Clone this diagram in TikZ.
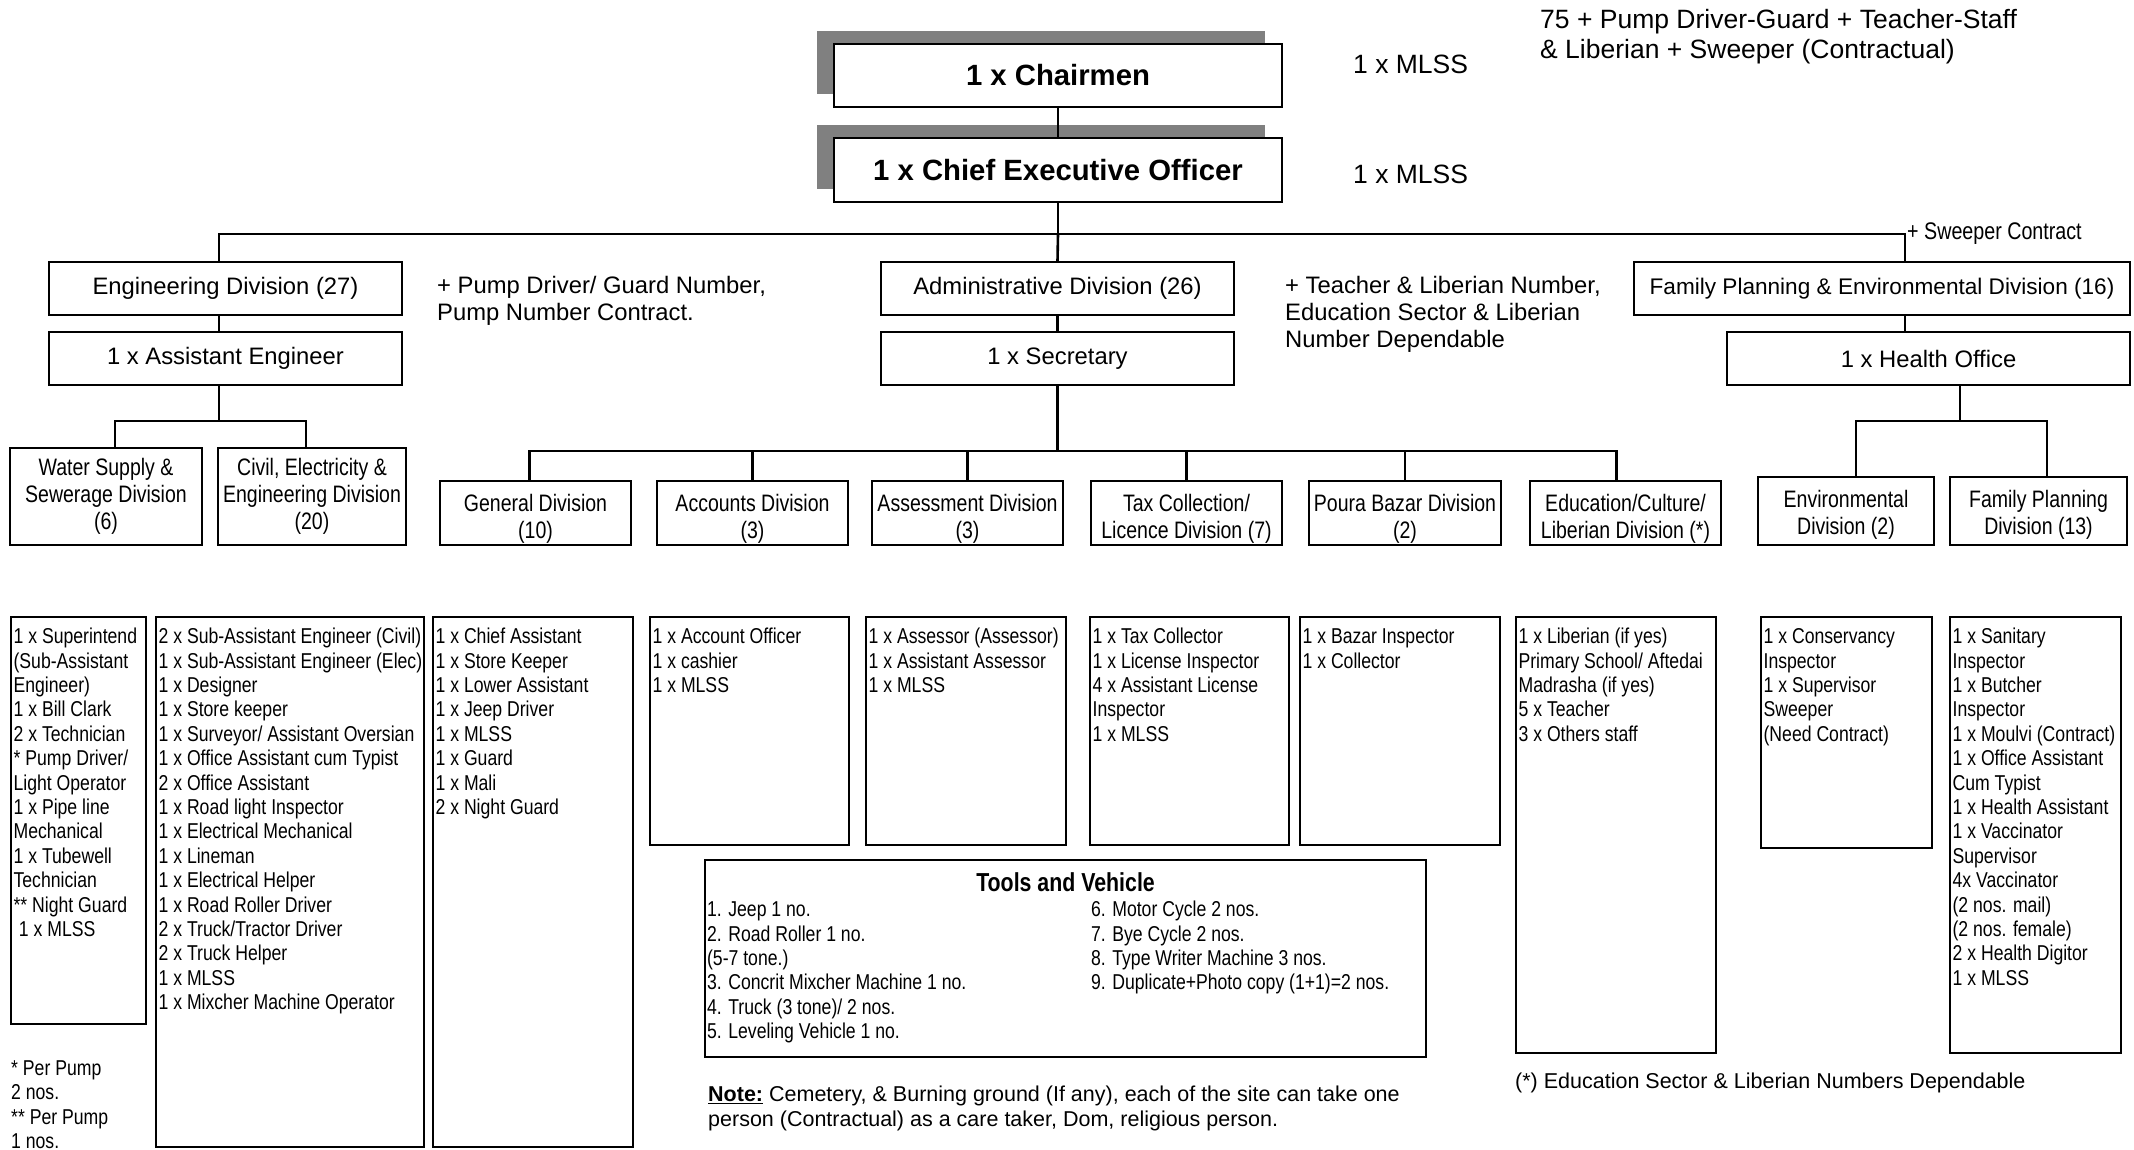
\documentclass[tikz,border=0pt]{standalone}
\usepackage{fontspec}
\setmainfont{Liberation Sans}
\newfontfamily\narrowfont[FakeStretch=0.82]{Liberation Sans}
\usetikzlibrary{calc,shadows}

% font sizes (1 unit = 1pt)
\newcommand\hdfont{\fontsize{23.8}{27}\selectfont}
\newcommand\sbfont{\narrowfont\fontsize{23.8}{26.7}\selectfont}
\newcommand\lsfont{\narrowfont\fontsize{21.5}{24.4}\selectfont}
\newcommand\topfont{\fontsize{26.5}{30}\selectfont}
\newcommand\chieffont{\bfseries\fontsize{29.3}{33}\selectfont}
\newcommand\notefont{\fontsize{21.5}{25}\selectfont}
\newcommand\tstrut{\rule{0pt}{0.8em}}
% taller first line, pushes a centred block of lines slightly down
\newcommand\lowstrut[1]{\rule{0pt}{#1}}

\tikzset{
  box/.style={draw, line width=2.2pt, fill=white, inner sep=0pt, align=center},
  topbox/.style={box, font=\chieffont,
    drop shadow={shadow xshift=-17pt, shadow yshift=13pt, opacity=1, fill=black!50}},
  headbox/.style={box, font=\hdfont},
  subbox/.style={box, font=\sbfont},
  listbox/.style={draw, line width=2.2pt, inner sep=0pt},
  listtext/.style={anchor=north west, inner sep=0pt, align=left, font=\lsfont},
  freetext/.style={anchor=north west, inner sep=0pt, align=left},
  link/.style={line width=2.6pt},
}

\begin{document}
\begin{tikzpicture}[x=1pt,y=-1pt]
\fill[white] (0,0) rectangle (2134,1149);
\useasboundingbox (0,0) rectangle (2134,1149);

% ---- top of the hierarchy
\node[topbox, minimum width=448, minimum height=63] (chair) at (1058,75.5) {1 x Chairmen};
\node[topbox, minimum width=448, minimum height=64] (ceo) at (1058,170) {1 x Chief Executive Officer};
\node[anchor=west, inner sep=0pt, font=\topfont] (mlss1) at (1353,64) {1 x MLSS};
\node[anchor=west, inner sep=0pt, font=\topfont] (mlss2) at (1353,174) {1 x MLSS};
\node[freetext, font=\topfont] (total) at (1540,7)
  {\tstrut 75 + Pump Driver-Guard + Teacher-Staff\\\& Liberian + Sweeper (Contractual)};

% ---- divisions
\node[headbox, minimum width=353, minimum height=53] (eng) at (225.5,288.5) {Engineering Division (27)};
\node[headbox, minimum width=353, minimum height=53] (asst) at (225.5,358.5) {1 x Assistant Engineer};
\node[headbox, minimum width=353, minimum height=53] (admin) at (1057.5,288.5) {Administrative Division (26)};
\node[headbox, minimum width=353, minimum height=53] (secr) at (1057.5,358.5) {1 x Secretary};
\node[headbox, minimum width=496, minimum height=53, font={\fontsize{22.6}{26}\selectfont}] (fam) at (1882,288.5)
  {Family Planning \& Environmental Division (16)};
\node[headbox, minimum width=403, minimum height=53] (health) at (1928.5,358.5) {1 x Health Office};

\node[freetext, font=\hdfont] (pumpnote) at (437,274.4)
  {\tstrut + Pump Driver/ Guard Number,\\Pump Number Contract.};
\node[freetext, font=\hdfont] (teachnote) at (1285,274.4)
  {\tstrut + Teacher \& Liberian Number,\\Education Sector \& Liberian\\Number Dependable};
\node[anchor=west, inner sep=0pt, font={\narrowfont\fontsize{24}{27}\selectfont}] (sweep) at (1907,234)
  {+ Sweeper Contract};

% ---- sections
\node[subbox, minimum width=192, minimum height=97] (water) at (106,496.5) {Water Supply \&\\Sewerage Division\\(6)};
\node[subbox, minimum width=188, minimum height=97] (civil) at (312,496.5) {Civil, Electricity \&\\Engineering Division\\(20)};
\node[subbox, minimum width=191, minimum height=64] (general) at (535.5,513) {\lowstrut{28.5pt}General Division\\(10)};
\node[subbox, minimum width=191, minimum height=64] (accounts) at (752.5,513) {\lowstrut{28.5pt}Accounts Division\\(3)};
\node[subbox, minimum width=191, minimum height=64] (assess) at (967.5,513) {\lowstrut{28.5pt}Assessment Division\\(3)};
\node[subbox, minimum width=191, minimum height=64] (tax) at (1186.5,513) {\lowstrut{28.5pt}Tax Collection/\\Licence Division (7)};
\node[subbox, minimum width=192, minimum height=64] (bazar) at (1405,513) {\lowstrut{28.5pt}Poura Bazar Division\\(2)};
\node[subbox, minimum width=191, minimum height=64] (educ) at (1625.5,513) {\lowstrut{28.5pt}Education/Culture/\\Liberian Division (*)};
\node[subbox, minimum width=176, minimum height=68] (env) at (1846,511) {\lowstrut{25.5pt}Environmental\\Division (2)};
\node[subbox, minimum width=177, minimum height=68] (fp) at (2038.5,511) {\lowstrut{25.5pt}Family Planning\\Division (13)};

% ---- staff lists
\node[listbox, minimum width=135, minimum height=407] (l1) at (78.5,820.5) {};
\node[listbox, minimum width=268, minimum height=530] (l2) at (290,882) {};
\node[listbox, minimum width=200, minimum height=530] (l3) at (533,882) {};
\node[listbox, minimum width=199, minimum height=228] (l4) at (749.5,731) {};
\node[listbox, minimum width=200, minimum height=228] (l5) at (966,731) {};
\node[listbox, minimum width=199, minimum height=228] (l6) at (1189.5,731) {};
\node[listbox, minimum width=200, minimum height=228] (l7) at (1400,731) {};
\node[listbox, minimum width=200, minimum height=436] (l8) at (1616,835) {};
\node[listbox, minimum width=171, minimum height=231] (l9) at (1846.5,732.5) {};
\node[listbox, minimum width=171, minimum height=436] (l10) at (2035.5,835) {};

\node[listtext] (l1t) at ($(l1.north west)+(3.5,10.3)$)
  {\tstrut 1 x Superintend\\(Sub-Assistant\\Engineer)\\1 x Bill Clark\\2 x Technician\\{}* Pump Driver/\\Light Operator\\1 x Pipe line\\Mechanical\\1 x Tubewell\\Technician\\{}** Night Guard\\\hspace{0.25em}1 x MLSS};
\node[listtext] (l2t) at ($(l2.north west)+(3.5,10.3)$)
  {\tstrut 2 x Sub-Assistant Engineer (Civil)\\1 x Sub-Assistant Engineer (Elec)\\1 x Designer\\1 x Store keeper\\1 x Surveyor/ Assistant Oversian\\1 x Office Assistant cum Typist\\2 x Office Assistant\\1 x Road light Inspector\\1 x Electrical Mechanical\\1 x Lineman\\1 x Electrical Helper\\1 x Road Roller Driver\\2 x Truck/Tractor Driver\\2 x Truck Helper\\1 x MLSS\\1 x Mixcher Machine Operator};
\node[listtext] (l3t) at ($(l3.north west)+(3.5,10.3)$)
  {\tstrut 1 x Chief Assistant\\1 x Store Keeper\\1 x Lower Assistant\\1 x Jeep Driver\\1 x MLSS\\1 x Guard\\1 x Mali\\2 x Night Guard};
\node[listtext] (l4t) at ($(l4.north west)+(3.5,10.3)$)
  {\tstrut 1 x Account Officer\\1 x cashier\\1 x MLSS};
\node[listtext] (l5t) at ($(l5.north west)+(3.5,10.3)$)
  {\tstrut 1 x Assessor (Assessor)\\1 x Assistant Assessor\\1 x MLSS};
\node[listtext] (l6t) at ($(l6.north west)+(3.5,10.3)$)
  {\tstrut 1 x Tax Collector\\1 x License Inspector\\4 x Assistant License\\Inspector\\1 x MLSS};
\node[listtext] (l7t) at ($(l7.north west)+(3.5,10.3)$)
  {\tstrut 1 x Bazar Inspector\\1 x Collector};
\node[listtext] (l8t) at ($(l8.north west)+(3.5,10.3)$)
  {\tstrut 1 x Liberian (if yes)\\Primary School/ Aftedai\\Madrasha (if yes)\\5 x Teacher\\3 x Others staff};
\node[listtext] (l9t) at ($(l9.north west)+(3.5,10.3)$)
  {\tstrut 1 x Conservancy\\Inspector\\1 x Supervisor\\Sweeper\\(Need Contract)};
\node[listtext] (l10t) at ($(l10.north west)+(3.5,10.3)$)
  {\tstrut 1 x Sanitary\\Inspector\\1 x Butcher\\Inspector\\1 x Moulvi (Contract)\\1 x Office Assistant\\Cum Typist\\1 x Health Assistant\\1 x Vaccinator\\Supervisor\\4x Vaccinator\\(2 nos. mail)\\(2 nos. female)\\2 x Health Digitor\\1 x MLSS};

\node[listtext] (pumpfoot) at (11,1058)
  {\tstrut{}* Per Pump\\2 nos.\\{}** Per Pump\\1 nos.};

% ---- tools and vehicles
\node[listbox, minimum width=721, minimum height=197] (tools) at (1065.5,958.5) {};
\node[inner sep=0pt, font={\narrowfont\bfseries\fontsize{26}{30}\selectfont}] (ttitle) at ($(tools.north)+(0,23)$)
  {Tools and Vehicle};
\node[listtext] (tleft) at ($(tools.north west)+(3,40.3)$)
  {\tstrut 1. Jeep 1 no.\\2. Road Roller 1 no.\\(5-7 tone.)\\3. Concrit Mixcher Machine 1 no.\\4. Truck (3 tone)/ 2 nos.\\5. Leveling Vehicle 1 no.};
\node[listtext] (tright) at ($(tools.north west)+(387,40.3)$)
  {\tstrut 6. Motor Cycle 2 nos.\\7. Bye Cycle 2 nos.\\8. Type Writer Machine 3 nos.\\9. Duplicate+Photo copy (1+1)=2 nos.};

\node[freetext, font=\notefont] (note) at (708,1084.3)
  {\tstrut\underline{\textbf{Note:}} Cemetery, \& Burning ground (If any), each of the site can take one\\person (Contractual) as a care taker, Dom, religious person.};
\node[anchor=west, inner sep=0pt, font=\notefont] (edunote) at (1515,1083)
  {(*) Education Sector \& Liberian Numbers Dependable};

% ---- connectors
\coordinate (bus) at ($(ceo.south)+(0,31)$);
\coordinate (famtap) at ([xshift=23pt]fam.south);
\coordinate (engtop) at ([xshift=-6.5pt]eng.north);
\coordinate (engbot) at ([xshift=-6.5pt]eng.south);
\coordinate (asttop) at ([xshift=-6.5pt]asst.north);
\coordinate (astbot) at ([xshift=-6.5pt]asst.south);
\draw[link] (chair) -- (ceo);
\draw[link] (ceo.south) -- (bus);
\draw[link] (engtop) |- (bus) -| ([xshift=23pt]fam.north);
\draw[link] (bus) -- (admin.north);
\draw[link] (engbot) -- (asttop);
\draw[link] (admin) -- (secr);
\draw[link] (famtap) -- (famtap |- health.north);

\coordinate (engfork) at ($(astbot)+(0,35)$);
\draw[link] (astbot) -- (engfork);
\draw[link] ([xshift=9pt]water.north) |- (engfork) -| ([xshift=-6pt]civil.north);

\coordinate (admfork) at ($(secr.south)+(0,65)$);
\draw[link] (secr.south) -- (admfork);
\draw[link] ([xshift=-6pt]general.north) |- (admfork) -| ([xshift=-9pt]educ.north);
\foreach \n in {accounts,assess,tax,bazar}
  \draw[link] (\n.north) -- (\n.north |- admfork);

\coordinate (hdrop) at ([xshift=31.5pt]health.south);
\coordinate (hfork) at ($(hdrop)+(0,35)$);
\draw[link] (hdrop) -- (hfork);
\draw[link] ([xshift=10pt]env.north) |- (hfork) -| ([xshift=8.5pt]fp.north);
\end{tikzpicture}
\end{document}
